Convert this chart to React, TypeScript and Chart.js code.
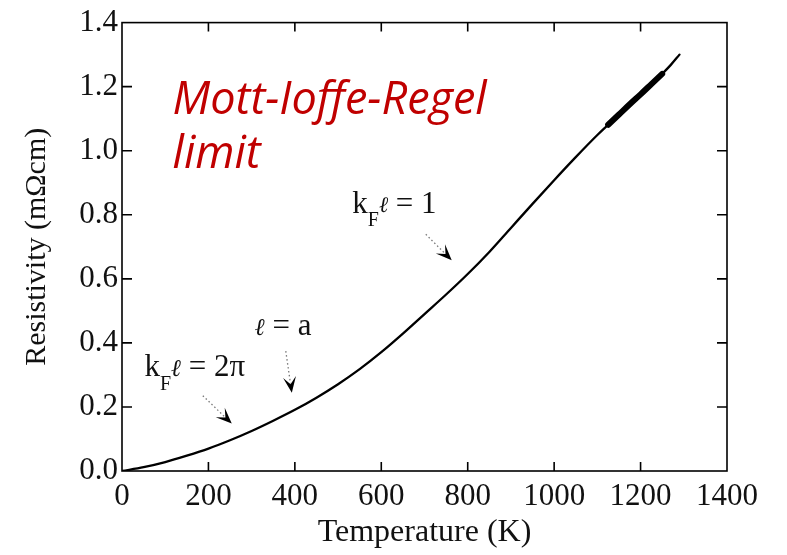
import React, { useEffect, useRef } from 'react';
import { Chart, registerables } from 'chart.js';

Chart.register(...registerables);

// Resistivity vs temperature, single sweep
const temperatureK = [0, 50, 100, 150, 200, 250, 300, 350, 400, 450, 500, 550, 600, 650, 700, 750, 800, 850, 900, 950, 1000, 1050, 1100, 1125, 1150, 1175, 1200, 1225, 1250, 1270, 1290];
const resistivity = [0.0, 0.012, 0.028, 0.048, 0.07, 0.096, 0.125, 0.157, 0.191, 0.229, 0.271, 0.318, 0.371, 0.429, 0.49, 0.551, 0.615, 0.684, 0.759, 0.834, 0.908, 0.98, 1.049, 1.081, 1.113, 1.145, 1.176, 1.208, 1.24, 1.268, 1.3];

// temperature window where repeated sweeps pile up into a thick band
const bandFromK = 1125;
const bandToK = 1260;

const xTickStep = 200;
const yTickStep = 0.2;

const SERIF = '"Liberation Serif", "Times New Roman", serif';
const INK = '#111';

type Seg = { t: string; size: number; dy?: number; italic?: boolean };
type Note = { x: number; y: number; segs: Seg[] };
type Arrow = { x0: number; y0: number; x1: number; y1: number };

// Text notes anchored in data units (left edge, baseline)
const notes: Note[] = [
  {
    x: 533, y: 0.806,
    segs: [
      { t: 'k', size: 31 },
      { t: 'F', size: 20, dy: 13 },
      { t: 'ℓ', size: 22, dy: -1, italic: true },
      { t: ' = 1', size: 31 },
    ],
  },
  {
    x: 307, y: 0.426,
    segs: [
      { t: 'ℓ', size: 24, italic: true },
      { t: ' = a', size: 31 },
    ],
  },
  {
    x: 52, y: 0.297,
    segs: [
      { t: 'k', size: 31 },
      { t: 'F', size: 20, dy: 14 },
      { t: 'ℓ', size: 24, italic: true },
      { t: ' = 2π', size: 31 },
    ],
  },
];

const arrows: Arrow[] = [
  { x0: 703, y0: 0.739, x1: 763, y1: 0.658 },
  { x0: 379, y0: 0.374, x1: 393, y1: 0.244 },
  { x0: 187, y0: 0.235, x1: 254, y1: 0.148 },
];

const limitLines = ['Mott-Ioffe-Regel', 'limit'];
const limitAnchor = { x: 117, y: 1.116, y2: 0.946 };

const framePlugin = {
  id: 'frameTicks',
  beforeDatasetsDraw(chart: any) {
    const { ctx, chartArea: a, scales } = chart;
    const x = scales.x;
    const y = scales.y;
    ctx.save();
    ctx.strokeStyle = '#000';
    ctx.lineWidth = 1.6;
    ctx.strokeRect(a.left, a.top, a.right - a.left, a.bottom - a.top);
    ctx.beginPath();
    x.ticks.forEach((t: any) => {
      if (t.value <= x.min || t.value >= x.max) return;
      const px = x.getPixelForValue(t.value);
      ctx.moveTo(px, a.bottom);
      ctx.lineTo(px, a.bottom - 9);
      ctx.moveTo(px, a.top);
      ctx.lineTo(px, a.top + 9);
    });
    y.ticks.forEach((t: any) => {
      if (t.value <= y.min + 1e-9 || t.value >= y.max - 1e-9) return;
      const py = y.getPixelForValue(t.value);
      ctx.moveTo(a.left, py);
      ctx.lineTo(a.left + 10, py);
      ctx.moveTo(a.right, py);
      ctx.lineTo(a.right - 10, py);
    });
    ctx.stroke();
    ctx.restore();
  },
};

const notesPlugin = {
  id: 'notes',
  afterDatasetsDraw(chart: any) {
    const { ctx, scales } = chart;
    const x = scales.x;
    const y = scales.y;
    ctx.save();
    ctx.textBaseline = 'alphabetic';
    ctx.textAlign = 'left';

    // labelled formulas
    ctx.fillStyle = INK;
    notes.forEach((n) => {
      let cx = x.getPixelForValue(n.x);
      const base = y.getPixelForValue(n.y);
      n.segs.forEach((s) => {
        ctx.font = `${s.italic ? 'italic ' : ''}${s.size}px ${SERIF}`;
        ctx.fillText(s.t, cx, base + (s.dy || 0));
        cx += ctx.measureText(s.t).width;
      });
    });

    // dotted pointers with solid heads
    arrows.forEach((ar) => {
      const x0 = x.getPixelForValue(ar.x0);
      const y0 = y.getPixelForValue(ar.y0);
      const x1 = x.getPixelForValue(ar.x1);
      const y1 = y.getPixelForValue(ar.y1);
      const ang = Math.atan2(y1 - y0, x1 - x0);
      const len = Math.hypot(x1 - x0, y1 - y0);
      const head = 16;
      const ux = Math.cos(ang);
      const uy = Math.sin(ang);
      ctx.strokeStyle = '#777';
      ctx.lineWidth = 1.3;
      ctx.setLineDash([1.5, 2.5]);
      ctx.beginPath();
      ctx.moveTo(x0, y0);
      ctx.lineTo(x0 + ux * (len - head * 0.6), y0 + uy * (len - head * 0.6));
      ctx.stroke();
      ctx.setLineDash([]);
      const bx = x1 - ux * head;
      const by = y1 - uy * head;
      const nx = -uy;
      const ny = ux;
      const hw = 6.5;
      const notchX = x1 - ux * head * 0.55;
      const notchY = y1 - uy * head * 0.55;
      ctx.fillStyle = '#000';
      ctx.beginPath();
      ctx.moveTo(x1, y1);
      ctx.lineTo(bx + nx * hw, by + ny * hw);
      ctx.lineTo(notchX, notchY);
      ctx.lineTo(bx - nx * hw, by - ny * hw);
      ctx.closePath();
      ctx.fill();
    });

    // limit caption
    ctx.fillStyle = '#c00000';
    ctx.font = 'italic 45px "Open Sans", "Noto Sans", sans-serif';
    const lx = x.getPixelForValue(limitAnchor.x);
    ctx.fillText(limitLines[0], lx, y.getPixelForValue(limitAnchor.y));
    ctx.fillText(limitLines[1], lx, y.getPixelForValue(limitAnchor.y2));
    ctx.restore();
  },
};

export default function App() {
  const ref = useRef<HTMLCanvasElement>(null);

  useEffect(() => {
    const points = temperatureK.map((t, i) => ({ x: t, y: resistivity[i] }));
    const band = points.filter((p) => p.x >= bandFromK && p.x <= bandToK);
    const chart = new Chart(ref.current as HTMLCanvasElement, {
      type: 'line',
      data: {
        datasets: [
          {
            data: points,
            borderColor: '#000',
            borderWidth: 2.3,
            borderCapStyle: 'round',
            borderJoinStyle: 'round',
            cubicInterpolationMode: 'monotone',
            pointRadius: 0,
            fill: false,
          },
          {
            data: band,
            borderColor: '#000',
            borderWidth: 6,
            borderCapStyle: 'round',
            borderJoinStyle: 'round',
            cubicInterpolationMode: 'monotone',
            pointRadius: 0,
            fill: false,
          },
        ],
      },
      options: {
        animation: false,
        responsive: false,
        layout: { padding: { top: 18, right: 60, bottom: 0, left: 0 } },
        plugins: {
          legend: { display: false },
          tooltip: { enabled: false },
        },
        scales: {
          x: {
            type: 'linear',
            min: 0,
            max: 1400,
            grid: { display: false, drawTicks: false },
            border: { display: false },
            ticks: {
              stepSize: xTickStep,
              autoSkip: false,
              maxRotation: 0,
              padding: 7,
              color: INK,
              font: { family: SERIF, size: 31 },
              callback: (v: any) => String(v),
            },
            title: {
              display: true,
              text: 'Temperature (K)',
              color: INK,
              font: { family: SERIF, size: 32 },
              padding: { top: 0, bottom: 3 },
            },
            afterFit: (s: any) => {
              s.height = 84;
            },
          },
          y: {
            type: 'linear',
            min: 0,
            max: 1.4,
            grid: { display: false, drawTicks: false },
            border: { display: false },
            ticks: {
              stepSize: yTickStep,
              padding: 4,
              color: INK,
              font: { family: SERIF, size: 31 },
              callback: (v: any) => Number(v).toFixed(1),
            },
            title: {
              display: true,
              text: 'Resistivity (mΩcm)',
              color: INK,
              font: { family: SERIF, size: 30 },
              padding: { top: 19, bottom: 0 },
            },
            afterFit: (s: any) => {
              s.width = 122;
            },
          },
        },
      } as any,
      plugins: [framePlugin, notesPlugin],
    });
    return () => chart.destroy();
  }, []);

  return (
    <div style={{ position: 'fixed', left: 0, top: 0, width: 787, height: 555, background: '#fff' }}>
      <canvas ref={ref} width={787} height={555} style={{ display: 'block' }} />
    </div>
  );
}
